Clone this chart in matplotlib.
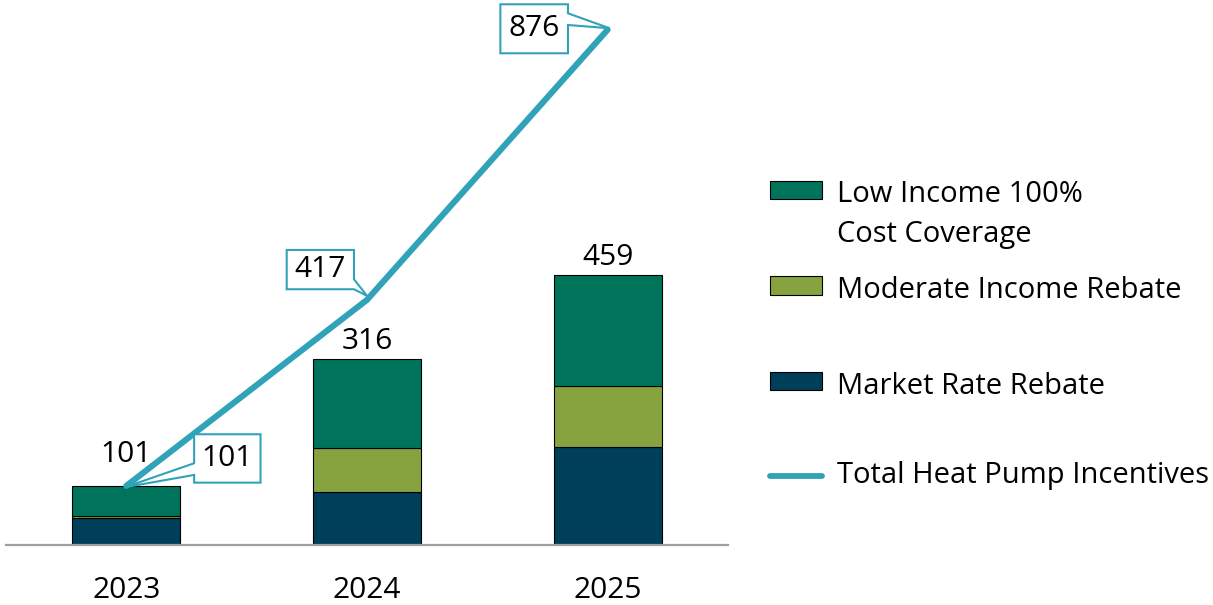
import numpy as np
import matplotlib
matplotlib.use("Agg")
import matplotlib.pyplot as plt
from matplotlib.patches import Rectangle, Polygon
from matplotlib.lines import Line2D
from matplotlib.transforms import IdentityTransform

plt.rcParams['font.family'] = ['Open Sans', 'DejaVu Sans']

# data
years = ['2023', '2024', '2025']
market_rate = [46, 91, 167]
moderate_income = [4, 74, 104]
low_income = [51, 151, 188]
total_incentives = [101, 417, 876]

series_names = ['Low Income 100%\nCost Coverage', 'Moderate Income Rebate',
                'Market Rate Rebate', 'Total Heat Pump Incentives']
c_low = '#00745a'
c_mod = '#86a340'
c_mkt = '#003f5a'
c_line = '#31a3b9'
FS = 21.5
FS_LEG = 21

W, H = 1213, 605
fig = plt.figure(figsize=(W / 100, H / 100), dpi=100)
base_y = 545.3
ax = fig.add_axes([6 / W, (H - base_y) / H, 722 / W, base_y / H])
ax.set_xlim(-0.5, 2.5)
ax.set_ylim(0, base_y / 0.5886)

x = np.arange(len(years))
bw = 0.45
mkt = np.array(market_rate)
mod = np.array(moderate_income)
low = np.array(low_income)
ax.bar(x, mkt, bw, color=c_mkt, edgecolor='black', linewidth=0.8, zorder=2)
ax.bar(x, mod, bw, bottom=mkt, color=c_mod, edgecolor='black', linewidth=0.8, zorder=2)
ax.bar(x, low, bw, bottom=mkt + mod, color=c_low, edgecolor='black', linewidth=0.8, zorder=2)

totals = mkt + mod + low
gaps = [24, 10, 10]
for i, t in enumerate(totals):
    ax.annotate(str(t), xy=(x[i], t), xytext=(0, gaps[i]), textcoords='offset pixels',
                ha='center', va='baseline', fontsize=FS, color='black')

ax.plot(x, total_incentives, color=c_line, linewidth=4.4, zorder=3, solid_capstyle='round')

for s in ['top', 'left', 'right']:
    ax.spines[s].set_visible(False)
ax.spines['bottom'].set_color('#a0a0a0')
ax.spines['bottom'].set_linewidth(1.6)
ax.set_yticks([])
ax.set_xticks(x)
ax.set_xticklabels(years, fontsize=FS)
ax.tick_params(axis='x', length=0, pad=22)

# callout boxes on the line (pixel offsets from the data point)
callouts = [
    dict(box=(67.8, 134.2, 3.2, 51.6),
         verts=[(67.8, 3.2), (134.2, 3.2), (134.2, 51.6), (67.8, 51.6),
                (67.8, 22.6), (-1.5, -1.4), (67.8, 10.9)]),
    dict(box=(-80.3, -13.0, 10.6, 49.9),
         verts=[(-80.3, 10.6), (-13.0, 10.6), (0.0, 4.0), (-13.0, 20.6),
                (-13.0, 49.9), (-80.3, 49.9)]),
    dict(box=(-107.3, -39.7, -23.6, 25.4),
         verts=[(-107.3, -23.6), (-39.7, -23.6), (-39.7, 4.7), (2.0, 1.4),
                (-39.7, 16.4), (-39.7, 25.4), (-107.3, 25.4)]),
]
fig.canvas.draw()
for i, c in enumerate(callouts):
    px, py = ax.transData.transform((x[i], total_incentives[i]))
    pts = [(px + dx, py + dy) for dx, dy in c['verts']]
    ax.add_patch(Polygon(pts, closed=True, facecolor='white', edgecolor=c_line,
                         linewidth=1.5, transform=IdentityTransform(), clip_on=False, zorder=4))
    x0, x1, y0, y1 = c['box']
    ax.annotate(str(total_incentives[i]), xy=(x[i], total_incentives[i]),
                xytext=((x0 + x1) / 2, (y0 + y1) / 2), textcoords='offset pixels',
                ha='center', va='center', fontsize=FS, color='black', zorder=5)


# legend, drawn by hand to keep the uneven spacing
def fpt(px_x, px_y):
    return px_x / W, (H - px_y) / H


patch_tops = [180.7, 276.0, 371.7]
patch_cols = [c_low, c_mod, c_mkt]
text_base = [202, 298, 394, 483]
for i in range(3):
    fx, fy = fpt(770, patch_tops[i] + 18.6)
    fig.add_artist(Rectangle((fx, fy), 52 / W, 18.6 / H, transform=fig.transFigure,
                             facecolor=patch_cols[i], edgecolor='black', linewidth=0.8))
lx0, ly = fpt(770, 475.7)
lx1, _ = fpt(822, 475.7)
fig.add_artist(Line2D([lx0, lx1], [ly, ly], transform=fig.transFigure, color=c_line,
                      linewidth=4.2, solid_capstyle='round'))
for i, name in enumerate(series_names):
    for j, line in enumerate(name.split('\n')):
        tx, ty = fpt(836.7, text_base[i] + 40 * j)
        fig.text(tx, ty, line, fontsize=FS_LEG, ha='left', va='baseline', color='black')

fig.savefig('out.png', dpi=100)
